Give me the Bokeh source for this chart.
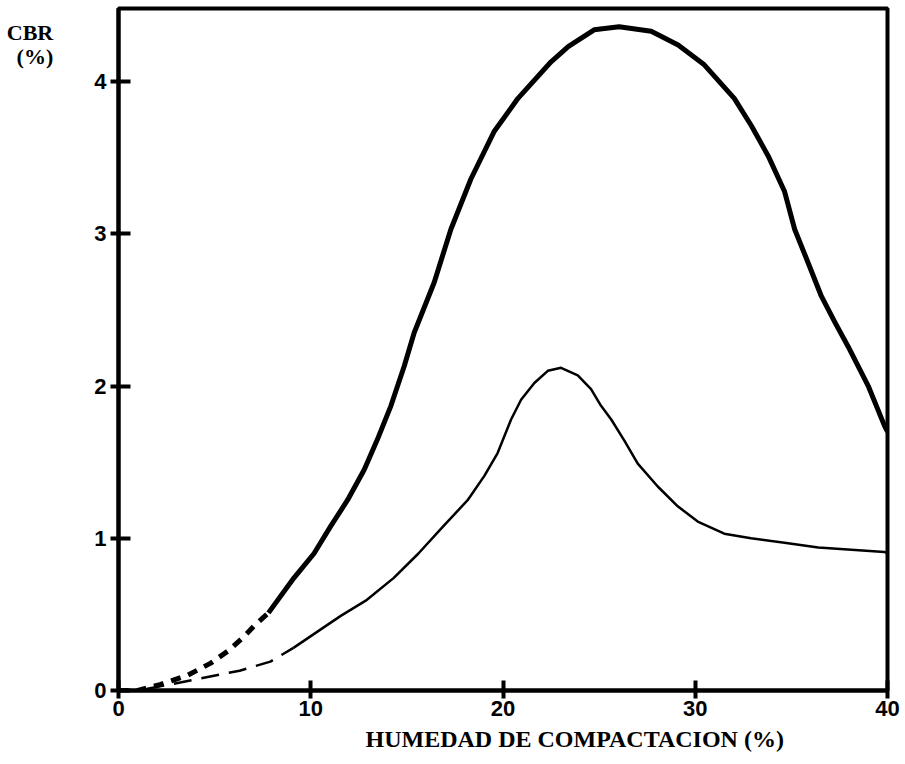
from bokeh.plotting import figure
from bokeh.models import Range1d, FixedTicker, Title
from bokeh.embed import file_html
from bokeh.resources import INLINE

# Upper (thick) curve: dashed part then solid part
upper_dash_x = [0.0, 1.0, 2.2, 3.6, 4.8, 5.7, 6.5, 7.1, 7.8]
upper_dash_y = [0.0, 0.0, 0.04, 0.10, 0.18, 0.26, 0.35, 0.43, 0.51]
upper_x = [7.8, 9.13, 10.17, 11.04, 11.91, 12.78, 13.47, 14.17, 14.86, 15.38, 16.42, 17.29,
           18.33, 19.53, 20.78, 22.5, 23.39, 24.74, 26.04, 27.71, 29.11, 30.47, 32.03,
           32.92, 33.80, 34.64, 35.17, 35.87, 36.56, 37.26, 37.95, 39.0, 39.84, 40.0]
upper_y = [0.51, 0.74, 0.90, 1.08, 1.25, 1.45, 1.65, 1.87, 2.13, 2.35, 2.68, 3.03,
           3.36, 3.67, 3.89, 4.13, 4.23, 4.34, 4.36, 4.33, 4.24, 4.11, 3.89,
           3.71, 3.51, 3.28, 3.03, 2.81, 2.59, 2.42, 2.26, 2.00, 1.74, 1.70]

# Lower (thin) curve: dashed part then solid part
lower_dash_x = [0.0, 1.0, 2.7, 4.3, 6.3, 7.9, 9.1]
lower_dash_y = [0.0, 0.0, 0.04, 0.08, 0.13, 0.19, 0.28]
lower_x = [9.1, 11.56, 12.86, 14.32, 15.6, 16.9, 18.16, 19.03, 19.72, 20.42, 20.94, 21.63,
           22.33, 23.02, 23.89, 24.58, 25.1, 25.63, 26.32, 27.01, 28.05, 29.09, 30.13,
           31.51, 32.9, 34.64, 36.4, 39.84, 40.0]
lower_y = [0.28, 0.49, 0.59, 0.74, 0.90, 1.08, 1.25, 1.41, 1.56, 1.78, 1.91, 2.02,
           2.10, 2.12, 2.07, 1.98, 1.87, 1.78, 1.64, 1.49, 1.34, 1.21, 1.11,
           1.03, 1.00, 0.97, 0.94, 0.91, 0.90]

x_ticks = [0, 10, 20, 30, 40]
y_ticks = [0, 1, 2, 3, 4]

p = figure(width=905, height=764, output_backend="svg", toolbar_location=None,
           x_range=Range1d(0, 40), y_range=Range1d(0, 4.48))
p.min_border_left = 118
p.min_border_right = 18
p.min_border_top = 8
p.min_border_bottom = 74
p.background_fill_color = "white"
p.border_fill_color = "white"
p.outline_line_color = "black"
p.outline_line_width = 4
p.grid.visible = False

for ax in (p.xaxis[0], p.yaxis[0]):
    ax.axis_line_width = 4
    ax.axis_line_color = "black"
    ax.major_tick_line_width = 4
    ax.major_tick_line_color = "black"
    ax.minor_tick_line_color = None
    ax.major_label_text_font = "Liberation Sans"
    ax.major_label_text_font_style = "bold"
    ax.major_label_text_font_size = "22px"
    ax.major_label_text_color = "black"

p.xaxis.ticker = FixedTicker(ticks=x_ticks)
p.yaxis.ticker = FixedTicker(ticks=y_ticks)
p.xaxis.major_tick_in = 10
p.xaxis.major_tick_out = 8
p.xaxis.major_label_standoff = 2
p.yaxis.major_tick_in = 12
p.yaxis.major_tick_out = 8
p.yaxis.major_label_standoff = 4

yax = p.yaxis[0]
yax.axis_label = " \n \n \nCBR\n(%)"
yax.axis_label_orientation = "horizontal"
yax.axis_label_text_font = "Liberation Serif"
yax.axis_label_text_font_style = "bold"
yax.axis_label_text_font_size = "22px"
yax.axis_label_text_color = "black"
yax.axis_label_text_line_height = 0.95
yax.axis_label_standoff = 38
if "axis_label_align" in yax.properties():
    yax.axis_label_align = "end"

p.line(upper_dash_x, upper_dash_y, line_width=5, line_color="black", line_dash="10 8")
p.line(upper_x, upper_y, line_width=5, line_color="black", line_join="round")
p.line(lower_dash_x, lower_dash_y, line_width=2.5, line_color="black", line_dash="18 10")
p.line(lower_x, lower_y, line_width=2.5, line_color="black", line_join="round")

xt = Title(text="HUMEDAD DE COMPACTACION (%)", align="left", offset=247,
           text_font="Liberation Serif", text_font_style="bold",
           text_font_size="24px", text_color="black", standoff=11)
p.add_layout(xt, "below")

open("out.html", "w").write(file_html(p, INLINE))
